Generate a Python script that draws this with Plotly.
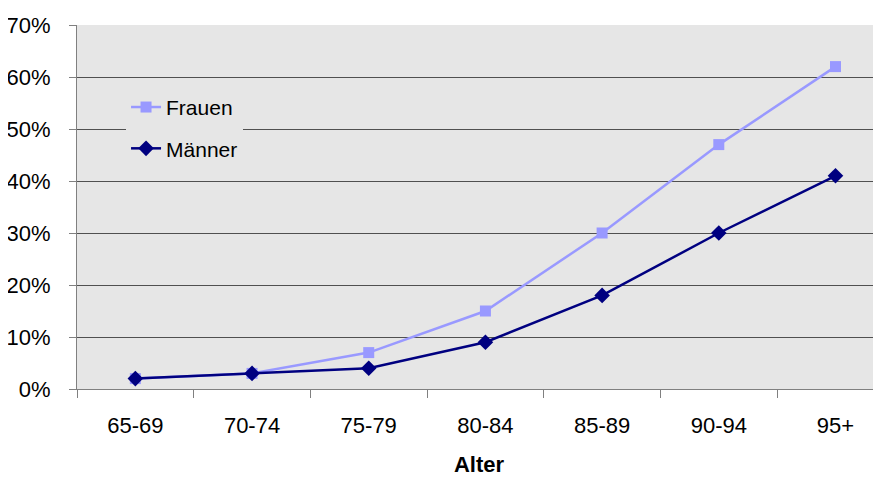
import plotly.graph_objects as go

categories = ["65-69", "70-74", "75-79", "80-84", "85-89", "90-94", "95+"]
frauen = [2, 3, 7, 15, 30, 47, 62]
maenner = [2, 3, 4, 9, 18, 30, 41]
y_ticks = [0, 10, 20, 30, 40, 50, 60, 70]
y_labels = [f"{v}%" for v in y_ticks]

BG = "#e6e6e6"
FONT = "Liberation Sans, Arial, sans-serif"

fig = go.Figure()
fig.add_trace(go.Scatter(
    x=categories, y=frauen, name="Frauen", mode="lines+markers",
    line=dict(color="#9999ff", width=2.5),
    marker=dict(symbol="square", size=11, color="#9999ff"),
    legendgroup="f",
))
fig.add_trace(go.Scatter(
    x=categories, y=maenner, name="Männer", mode="lines+markers",
    line=dict(color="#000080", width=2.5),
    marker=dict(symbol="diamond", size=12, color="#000080"),
    legendgroup="m",
))

fig.update_layout(
    width=873, height=469,
    margin=dict(l=69, r=0, t=17, b=88),
    paper_bgcolor="white",
    plot_bgcolor=BG,
    font=dict(family=FONT, size=22, color="#000000"),
    showlegend=True,
    legend=dict(
        x=0.061, y=0.83, xanchor="left", yanchor="top",
        bgcolor=BG, borderwidth=0,
        font=dict(size=21, family=FONT),
        traceorder="grouped", tracegroupgap=11,
        entrywidth=105, entrywidthmode="pixels",
    ),
)

fig.update_xaxes(
    type="category",
    range=[-0.5, 6.39],
    automargin=False,
    showgrid=False,
    showline=True, linecolor="#808080", linewidth=1,
    ticks="outside", tickson="boundaries", ticklen=8, tickcolor="#808080",
    tickfont=dict(size=22, family=FONT),
    ticklabelstandoff=17,
    title=dict(text="<b>Alter</b>", font=dict(size=22, family=FONT), standoff=22),
)
fig.update_yaxes(
    range=[0, 70],
    automargin=False,
    tickvals=y_ticks, ticktext=y_labels,
    showgrid=True, gridcolor="#505050", gridwidth=1,
    showline=True, linecolor="#808080", linewidth=1,
    ticks="outside", ticklen=7, tickcolor="#808080",
    tickfont=dict(size=22, family=FONT),
    ticklabelstandoff=14,
    zeroline=False,
)

fig.write_html("out.html")
